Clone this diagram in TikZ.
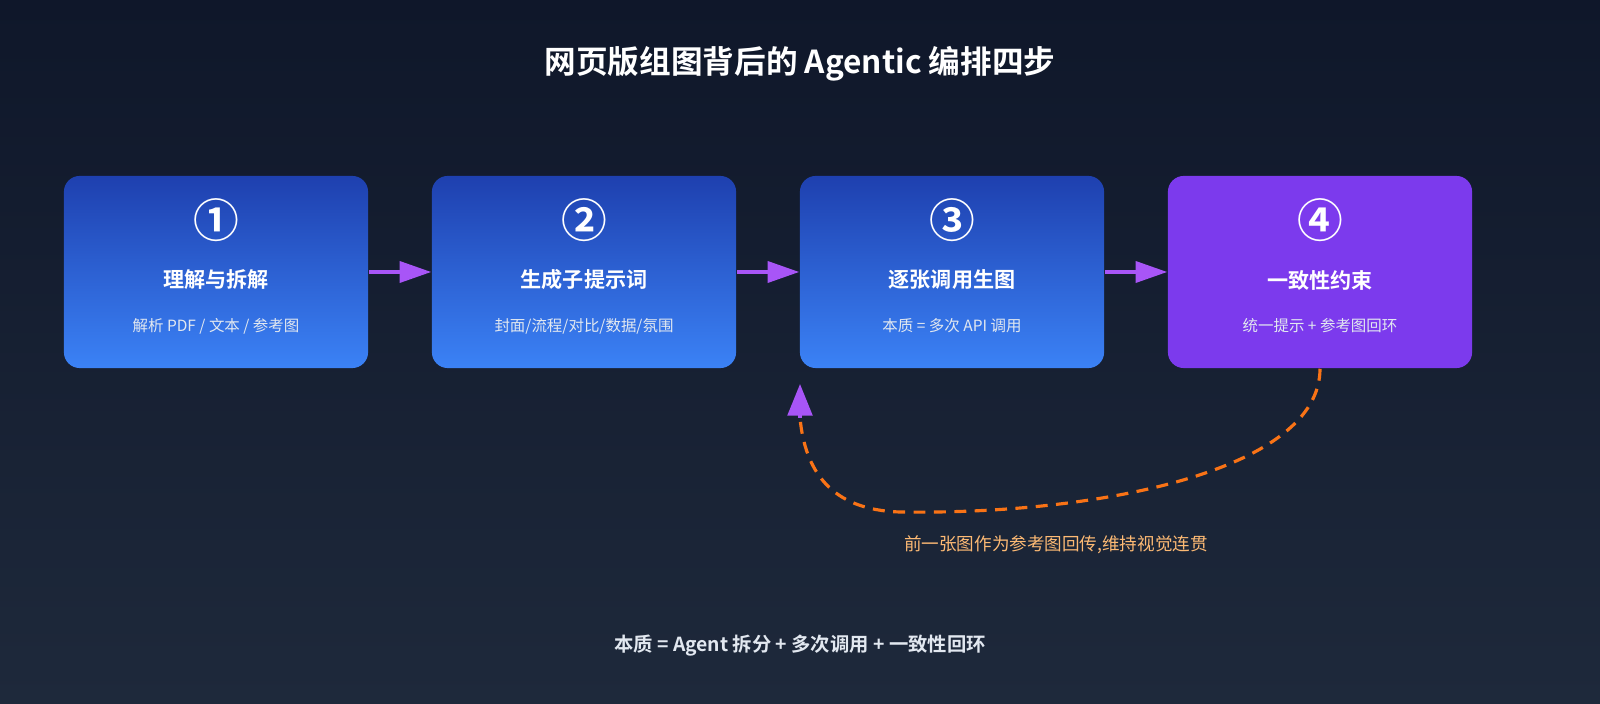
\documentclass[tikz,border=0pt]{standalone}
\usepackage{fontspec}
\setmainfont{Noto Sans CJK SC}
\newfontfamily\cjkbold{Noto Sans CJK SC Bold}
\usetikzlibrary{arrows.meta,positioning}
\definecolor{bgtop}{HTML}{0F172A}
\definecolor{bgbot}{HTML}{1E293B}
\definecolor{stepa}{HTML}{1E40AF}
\definecolor{stepb}{HTML}{3B82F6}
\definecolor{stepc}{HTML}{7C3AED}
\definecolor{linkc}{HTML}{A855F7}
\definecolor{loopc}{HTML}{F97316}
\definecolor{loopt}{HTML}{FDBA74}
\definecolor{subt}{HTML}{E2E8F0}
\begin{document}
\begin{tikzpicture}[x=0.01cm,y=-0.01cm,
  stepbox/.style = {rectangle, rounded corners=4.5pt, minimum width=3.04cm,
     minimum height=1.92cm, top color=stepa, bottom color=stepb},
  lastbox/.style = {stepbox, top color=stepc, bottom color=stepc},
  link/.style = {-{Triangle[length=9pt,width=6pt]}, linkc, line width=1pt},
  every node/.style = {text=white, inner sep=0pt}]
\shade[top color=bgtop, bottom color=bgbot] (0,0) rectangle (1600,704);
\useasboundingbox (0,0) rectangle (1600,704);
\node (title) at (800,64) {\cjkbold\fontsize{9}{11}\selectfont 网页版组图背后的 Agentic 编排四步};
\foreach \i/\num/\head/\sub in {1/①/理解与拆解/{解析 PDF / 文本 / 参考图},
    2/②/生成子提示词/{封面/流程/对比/数据/氛围},
    3/③/逐张调用生图/{本质 = 多次 API 调用}}
  {\node[stepbox] (s\i) at (216+368*\i-368,272) {};
   \node (n\i) at (216+368*\i-368,220) {\cjkbold\fontsize{13}{13}\selectfont\num};
   \node (h\i) at (216+368*\i-368,280) {\cjkbold\fontsize{6}{7}\selectfont\head};
   \node[text=subt] (d\i) at (216+368*\i-368,326) {\fontsize{4.4}{5}\selectfont\sub};}
\node[lastbox] (s4) at (1320,272) {};
\node (n4) at (1320,220) {\cjkbold\fontsize{13}{13}\selectfont④};
\node (h4) at (1320,280) {\cjkbold\fontsize{6}{7}\selectfont 一致性约束};
\node[text=subt] (d4) at (1320,326) {\fontsize{4.4}{5}\selectfont 统一提示 + 参考图回环};
\draw[link] (s1.east) -- (s2.west);
\draw[link] (s2.east) -- (s3.west);
\draw[link] (s3.east) -- (s4.west);
\coordinate (tip) at (800,384);
\draw[loopc, line width=0.9pt, dash pattern=on 3.4pt off 2.4pt]
  (s4.south) .. controls (1320,470) and (1100,515) .. (900,512)
  .. controls (830,510) and (805,470) .. (800,418);
\draw[-{Triangle[length=9pt,width=7pt]}, linkc, line width=1pt] (800,418) -- (tip);
\node[text=loopt] (note) at (1056,545) {\fontsize{5}{6}\selectfont 前一张图作为参考图回传,维持视觉连贯};
\node[text=subt] (sum) at (800,646) {\cjkbold\fontsize{5.5}{6.5}\selectfont 本质 = Agent 拆分 + 多次调用 + 一致性回环};
\end{tikzpicture}
\end{document}
